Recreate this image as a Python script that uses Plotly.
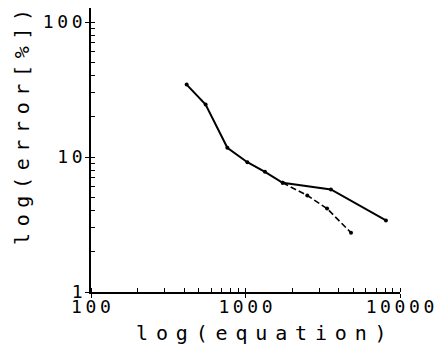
import plotly.graph_objects as go

# Data (log-log)
x_solid = [416, 552, 763, 1028, 1336, 1741, 3573, 8110]
y_solid = [34.4, 24.5, 11.7, 9.15, 7.77, 6.44, 5.75, 3.39]
x_dash = [1741, 2512, 3373, 4820]
y_dash = [6.44, 5.19, 4.15, 2.75]

x_tickvals = [100, 1000, 10000]
x_ticklabels = ["100", "1000", "10000"]
y_tickvals = [1, 10, 100]
y_ticklabels = ["1", "10", "100"]

x_title = "log(equation)"
y_title = "log(error[%])"

FONT = "DejaVu Sans Mono"
W, H = 438, 350
ML, MR, MT, MB = 91, 38, 8, 58


def spaced(s, gap_px):
    sp = '<span style="font-size:%dpx"> </span>' % gap_px
    return sp.join(s)


fig = go.Figure()
fig.add_trace(go.Scatter(
    x=x_solid, y=y_solid, mode="lines+markers",
    line=dict(color="black", width=2),
    marker=dict(color="black", size=4),
    showlegend=False,
))
fig.add_trace(go.Scatter(
    x=x_dash, y=y_dash, mode="lines+markers",
    line=dict(color="black", width=1.6, dash="6px,3px"),
    marker=dict(color="black", size=4),
    showlegend=False,
))

axis_common = dict(
    type="log",
    showgrid=False,
    zeroline=False,
    showline=True,
    automargin=False,
    linecolor="black",
    linewidth=1.5,
    ticks="outside",
    ticklen=4,
    tickcolor="black",
    tickwidth=1.2,
    tickfont=dict(family=FONT, size=18, color="black"),
    minor=dict(ticks="inside", ticklen=4, tickcolor="black", tickwidth=1, dtick="D1"),
)

pw = W - ML - MR
ph = H - MT - MB

fig.update_layout(
    width=W, height=H,
    margin=dict(l=ML, r=MR, t=MT, b=MB, autoexpand=False),
    paper_bgcolor="white",
    plot_bgcolor="white",
    xaxis=dict(
        axis_common,
        range=[2, 4],
        tickvals=x_tickvals,
        ticktext=[spaced(t, 6) for t in x_ticklabels],
        ticklabelstandoff=-6,
    ),
    yaxis=dict(
        axis_common,
        range=[0, 2.104],
        tickvals=y_tickvals,
        ticktext=[spaced(t, 6) for t in y_ticklabels],
        ticklabelstandoff=-1,
    ),
    annotations=[
        dict(
            text=spaced(x_title, 13), showarrow=False,
            xref="paper", yref="paper",
            x=(261 - ML) / pw, y=-(333 - (H - MB)) / ph,
            xanchor="center", yanchor="middle",
            font=dict(family=FONT, size=20, color="black"),
        ),
        dict(
            text=spaced(y_title, 11), showarrow=False, textangle=-90,
            xref="paper", yref="paper",
            x=-(ML - 22) / pw, y=((H - MB) - 127) / ph,
            xanchor="center", yanchor="middle",
            font=dict(family=FONT, size=20, color="black"),
        ),
    ],
)

fig.write_html(
    "out.html",
    config={"displayModeBar": False},
    post_script="document.body.style.margin='0';document.body.style.overflow='hidden';",
)
